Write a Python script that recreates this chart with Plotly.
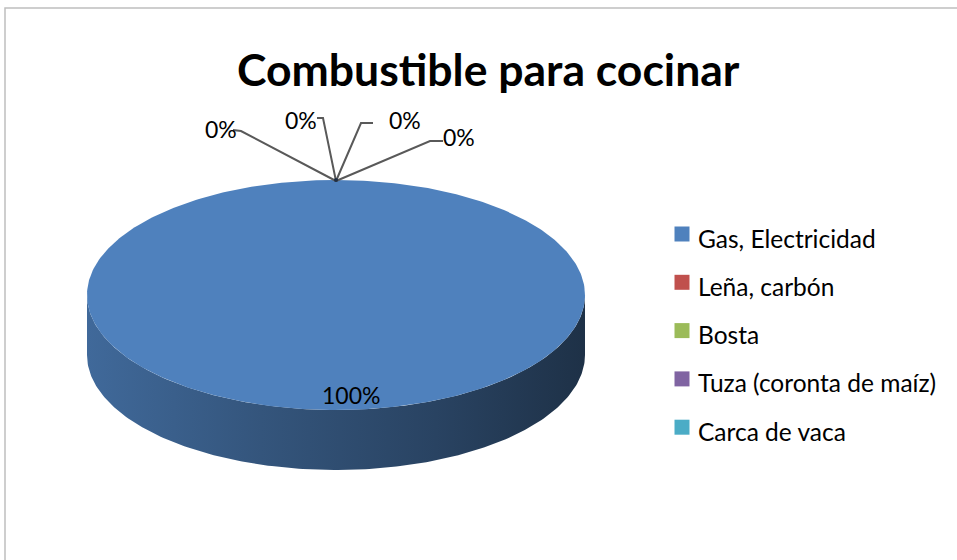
import numpy as np
import plotly.graph_objects as go

# Data
categories = ["Gas, Electricidad", "Leña, carbón", "Bosta", "Tuza (coronta de maíz)", "Carca de vaca"]
values = [100, 0, 0, 0, 0]
colors = ["#4F81BD", "#C0504D", "#9BBB59", "#8064A2", "#4BACC6"]
title_text = "Combustible para cocinar"

W, H = 957, 560
FONT = "Lato"

# 3D pie geometry (pixel space)
cx, cy = 336, 295      # centre of top face
rx, ry = 249, 115      # ellipse radii
depth = 60             # thickness of the disc

total = float(sum(values))
shares = [v / total for v in values]
bounds = np.concatenate([[0.0], np.cumsum(shares)]) * 2 * np.pi  # clockwise from 12 o'clock


def pt(theta, dy=0.0):
    return cx + rx * np.sin(theta), cy - ry * np.cos(theta) + dy


def side_rgb(hex_color):
    h = hex_color.lstrip("#")
    return tuple(int(h[i:i + 2], 16) for i in (0, 2, 4))


def shade(rgb, f):
    return "rgb(%d,%d,%d)" % tuple(max(0, min(255, int(c * f))) for c in rgb)


fig = go.Figure()

# Side walls (front half only)
for i, (t0, t1) in enumerate(zip(bounds[:-1], bounds[1:])):
    if t1 <= t0:
        continue
    a0, a1 = max(t0, np.pi / 2), min(t1, 3 * np.pi / 2)
    if a1 <= a0:
        continue
    th = np.linspace(a0, a1, 200)
    xs_top, ys_top = pt(th)
    xs_bot, ys_bot = pt(th[::-1], depth)
    xs = np.concatenate([xs_top, xs_bot, xs_top[:1]])
    ys = np.concatenate([ys_top, ys_bot, ys_top[:1]])
    base = side_rgb(colors[i])
    fig.add_trace(go.Scatter(
        x=xs, y=ys, mode="lines", fill="toself", line=dict(width=0),
        fillgradient=dict(type="horizontal", colorscale=[
            [0.0, shade(base, 0.82)], [0.35, shade(base, 0.66)],
            [0.7, shade(base, 0.52)], [1.0, shade(base, 0.38)]]),
        hoverinfo="skip", showlegend=False))

# Top faces
for i, (t0, t1) in enumerate(zip(bounds[:-1], bounds[1:])):
    if t1 <= t0:
        continue
    th = np.linspace(t0, t1, 400)
    xs, ys = pt(th)
    if t1 - t0 < 2 * np.pi - 1e-9:
        xs = np.concatenate([[cx], xs, [cx]])
        ys = np.concatenate([[cy], ys, [cy]])
    fig.add_trace(go.Scatter(
        x=xs, y=ys, mode="lines", fill="toself", fillcolor=colors[i],
        line=dict(width=0), hoverinfo="skip", showlegend=False))

# Data labels
zero_label_pos = [(221, 129), (301, 120), (405, 120), (459, 137)]
zero_line_end = [(233, 130), (317, 118), (373, 123), (443, 141)]
zero_line_elbow = [(241, 131), (323, 118), (361, 123), (430, 141)]
big_label_offset = (15, 0)

annotations = []
zi = 0
for i, (t0, t1) in enumerate(zip(bounds[:-1], bounds[1:])):
    pct = "%d%%" % round(shares[i] * 100)
    if t1 > t0:
        mid = (t0 + t1) / 2
        lx, ly = cx + 0.0 * rx * np.sin(mid), cy - 0.87 * ry * np.cos(mid)
        annotations.append(dict(x=lx + big_label_offset[0], y=ly + big_label_offset[1],
                                text=pct, showarrow=False, xref="x", yref="y",
                                font=dict(family=FONT, size=23, color="#000000")))
    else:
        ax, ay = pt(t0)
        ex, ey = zero_line_end[zi]
        bx, by = zero_line_elbow[zi]
        fig.add_trace(go.Scatter(x=[ax, bx, ex], y=[ay + 1, by, ey], mode="lines",
                                 line=dict(color="#595959", width=2),
                                 hoverinfo="skip", showlegend=False))
        lx, ly = zero_label_pos[zi]
        annotations.append(dict(x=lx, y=ly, text=pct, showarrow=False, xref="x", yref="y",
                                font=dict(family=FONT, size=23, color="#000000")))
        zi += 1

# Tip dot where leader lines meet
fig.add_trace(go.Scatter(x=[pt(0)[0]], y=[pt(0)[1]], mode="markers",
                         marker=dict(color="#1F2F45", size=4),
                         hoverinfo="skip", showlegend=False))

# Legend
leg_x, leg_y0, leg_dy = 682, 234, 48.3
leg_y = [leg_y0 + k * leg_dy for k in range(len(categories))]
fig.add_trace(go.Scatter(x=[leg_x] * len(categories), y=leg_y, mode="markers",
                         marker=dict(symbol="square", size=15, color=colors, line=dict(width=0)),
                         hoverinfo="skip", showlegend=False))
for k, name in enumerate(categories):
    annotations.append(dict(x=696, y=leg_y[k] + 4, text=name, showarrow=False,
                            xanchor="left", xref="x", yref="y",
                            font=dict(family=FONT, size=24.5, color="#000000")))

# Title
annotations.append(dict(x=488, y=68, text="<b>%s</b>" % title_text, showarrow=False,
                        xref="x", yref="y",
                        font=dict(family=FONT, size=44.5, color="#000000")))

# Chart area border
shapes = [dict(type="rect", xref="x", yref="y", x0=5, y0=8, x1=W + 20, y1=H + 20,
               line=dict(color="#BFBFBF", width=1.5), fillcolor="rgba(0,0,0,0)")]

fig.update_layout(
    width=W, height=H,
    margin=dict(l=0, r=0, t=0, b=0),
    paper_bgcolor="white", plot_bgcolor="white",
    xaxis=dict(range=[0, W], visible=False, fixedrange=True),
    yaxis=dict(range=[H, 0], visible=False, fixedrange=True),
    annotations=annotations, shapes=shapes, showlegend=False,
)

fig.write_html("out.html")
